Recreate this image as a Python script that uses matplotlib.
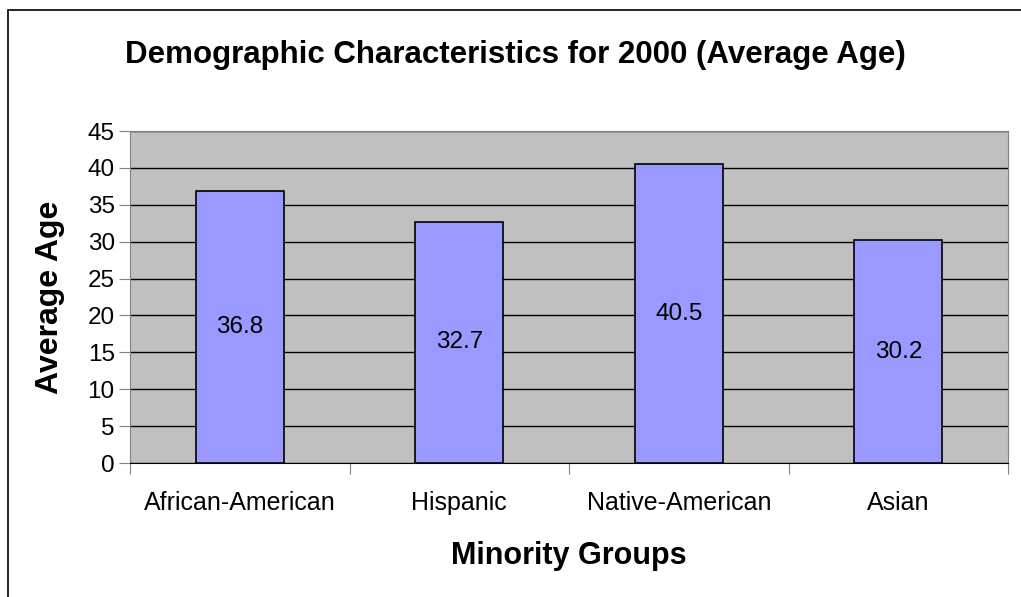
import matplotlib
matplotlib.use('Agg')
import matplotlib.pyplot as plt
from matplotlib.patches import Rectangle

# Average age by minority group, 2000
groups = ['African-American', 'Hispanic', 'Native-American', 'Asian']
avg_age = [36.8, 32.7, 40.5, 30.2]
y_ticks = [0, 5, 10, 15, 20, 25, 30, 35, 40, 45]

plt.rcParams['font.family'] = ['Liberation Sans', 'DejaVu Sans']

fig = plt.figure(figsize=(10.21, 5.97), dpi=100)
fig.patches.append(Rectangle((8 / 1021, -0.1), 1.2, 1 - 10 / 597 + 0.1,
                             transform=fig.transFigure, fill=False,
                             edgecolor='black', linewidth=1.2))

ax = fig.add_axes([130 / 1021, 134 / 597, 878 / 1021, 332 / 597])
ax.set_facecolor('#C0C0C0')

x = range(len(groups))
bars = ax.bar(x, avg_age, width=0.4, color='#9999FF', edgecolor='black',
              linewidth=1.2, zorder=3)
for b, v in zip(bars, avg_age):
    ax.text(b.get_x() + b.get_width() / 2, v / 2, f'{v:.1f}',
            ha='center', va='center', fontsize=17.5, zorder=4)

ax.set_xlim(-0.5, len(groups) - 0.5)
ax.set_ylim(0, 45)
ax.set_yticks(y_ticks)
ax.yaxis.grid(True, color='black', linewidth=1)
ax.set_axisbelow(True)

# category boundaries carry the tick marks, labels sit in the middle
ax.set_xticks([i - 0.5 for i in range(len(groups) + 1)])
ax.set_xticklabels([])
ax.set_xticks(list(x), minor=True)
ax.set_xticklabels(groups, minor=True, fontsize=18)
ax.tick_params(axis='x', which='minor', length=0, pad=20)
ax.tick_params(axis='x', which='major', length=8, color='#808080')
ax.tick_params(axis='y', length=8, color='#808080', labelsize=17.5, pad=3)

for side in ['left', 'right', 'top']:
    ax.spines[side].set_color('#808080')
ax.spines['bottom'].set_color('black')

fig.text(515 / 1021, 1 - 55 / 597, 'Demographic Characteristics for 2000 (Average Age)',
         ha='center', va='center', fontsize=22.5, fontweight='bold')
fig.text(569 / 1021, 1 - 556 / 597, 'Minority Groups',
         ha='center', va='center', fontsize=22, fontweight='bold')
fig.text(50 / 1021, 1 - 297 / 597, 'Average Age', rotation=90,
         ha='center', va='center', fontsize=23, fontweight='bold')

fig.savefig('out.png', dpi=100)
